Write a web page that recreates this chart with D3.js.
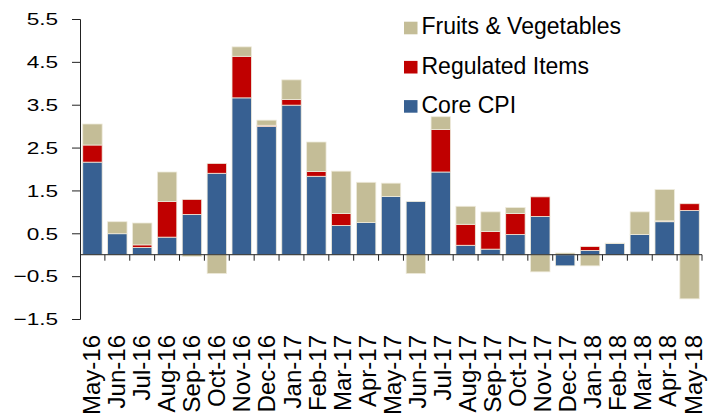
<!DOCTYPE html>
<html>
<head>
<meta charset="utf-8">
<script src="https://cdn.jsdelivr.net/npm/d3@7"></script>
<style>
  body { margin: 0; background: #fff; }
  svg text { font-family: "Liberation Sans", Arial, sans-serif; fill: #000; }
</style>
</head>
<body>
<div id="chart"></div>
<script>
// Chart data
const months = ['May-16', 'Jun-16', 'Jul-16', 'Aug-16', 'Sep-16', 'Oct-16', 'Nov-16', 'Dec-16',
  'Jan-17', 'Feb-17', 'Mar-17', 'Apr-17', 'May-17', 'Jun-17', 'Jul-17', 'Aug-17', 'Sep-17',
  'Oct-17', 'Nov-17', 'Dec-17', 'Jan-18', 'Feb-18', 'Mar-18', 'Apr-18', 'May-18'];
const coreCpi = [2.16, 0.49, 0.17, 0.41, 0.94, 1.90, 3.66, 2.99, 3.49, 1.83, 0.68, 0.75, 1.36,
  1.24, 1.93, 0.22, 0.13, 0.47, 0.89, -0.26, 0.10, 0.26, 0.47, 0.77, 1.03];
const regulatedItems = [0.40, 0.00, 0.06, 0.83, 0.35, 0.23, 0.97, 0.03, 0.13, 0.11, 0.28, 0.00, 0.00,
  0.00, 0.99, 0.49, 0.41, 0.49, 0.46, 0.00, 0.09, 0.00, 0.00, 0.02, 0.16];
const fruitsVeg = [0.49, 0.28, 0.51, 0.69, -0.04, -0.44, 0.22, 0.12, 0.46, 0.69, 0.99, 0.94, 0.31,
  -0.44, 0.30, 0.42, 0.46, 0.14, -0.40, 0.04, -0.26, 0.01, 0.53, 0.73, -1.03];
const yTicks = [-1.5, -0.5, 0.5, 1.5, 2.5, 3.5, 4.5, 5.5];

const seriesKeys = ['core', 'regulated', 'fv'];
const seriesNames = { core: 'Core CPI', regulated: 'Regulated Items', fv: 'Fruits & Vegetables' };
const colors = { core: '#376092', regulated: '#c00000', fv: '#c4bd97' };

const rows = months.map((m, i) => ({ month: m, core: coreCpi[i], regulated: regulatedItems[i], fv: fruitsVeg[i] }));

const width = 714, height = 416;
const plot = { left: 80, right: 702, top: 19, bottom: 319 };

const svg = d3.select('#chart').append('svg')
  .attr('width', width)
  .attr('height', height);

const x = d3.scaleBand().domain(months).range([plot.left, plot.right]).paddingInner(0.22).paddingOuter(0.11);
const xTicks = d3.scaleBand().domain(months).range([plot.left, plot.right]);
// month labels sit on a slightly wider spacing than the bars
const xLabels = d3.scalePoint().domain(months).range([100, 701.5]);
const y = d3.scaleLinear().domain([-1.5, 5.5]).range([plot.bottom, plot.top]);

const stacked = d3.stack().keys(seriesKeys).offset(d3.stackOffsetDiverging)(rows);

// bars
svg.append('g').selectAll('g')
  .data(stacked)
  .join('g')
  .attr('fill', d => colors[d.key])
  .selectAll('rect')
  .data(d => d)
  .join('rect')
  .attr('x', d => x(d.data.month))
  .attr('width', x.bandwidth())
  .attr('y', d => y(Math.max(d[0], d[1])))
  .attr('height', d => Math.abs(y(d[0]) - y(d[1])))
  .attr('stroke', '#eeeadb')
  .attr('stroke-width', 0.8);

// y axis
const yAxis = svg.append('g')
  .attr('transform', `translate(${plot.left},0)`)
  .call(d3.axisLeft(y).tickValues(yTicks).tickSize(8).tickFormat(d3.format('.1f')));
yAxis.select('.domain').attr('stroke', '#222');
yAxis.selectAll('.tick line').attr('stroke', '#222');
yAxis.selectAll('.tick text')
  .attr('font-size', 17)
  .attr('x', -16.5)
  .attr('dy', '0.34em')
  .attr('transform', 'scale(1.33,1)');

// x axis line at zero, ticks between bands
const zeroY = y(0);
svg.append('line')
  .attr('x1', plot.left).attr('x2', plot.right)
  .attr('y1', zeroY).attr('y2', zeroY)
  .attr('stroke', '#222');
svg.append('g').selectAll('line')
  .data(months)
  .join('line')
  .attr('x1', d => xTicks(d) + xTicks.bandwidth())
  .attr('x2', d => xTicks(d) + xTicks.bandwidth())
  .attr('y1', zeroY).attr('y2', zeroY + 6)
  .attr('stroke', '#222');

// month labels at bottom
svg.append('g').selectAll('text')
  .data(months)
  .join('text')
  .attr('transform', d => `translate(${xLabels(d)},335) rotate(-90)`)
  .attr('text-anchor', 'end')
  .attr('font-size', 24)
  .text(d => d);

// legend
const legendOrder = ['fv', 'regulated', 'core'];
const legend = svg.append('g').selectAll('g')
  .data(legendOrder)
  .join('g')
  .attr('transform', (d, i) => `translate(404,${34.3 + i * 39.2})`);
legend.append('rect')
  .attr('x', 0).attr('y', -12.6)
  .attr('width', 13.5).attr('height', 12.6)
  .attr('fill', d => colors[d]);
legend.append('text')
  .attr('x', 17.5)
  .attr('font-size', 23)
  .text(d => seriesNames[d]);
</script>
</body>
</html>
